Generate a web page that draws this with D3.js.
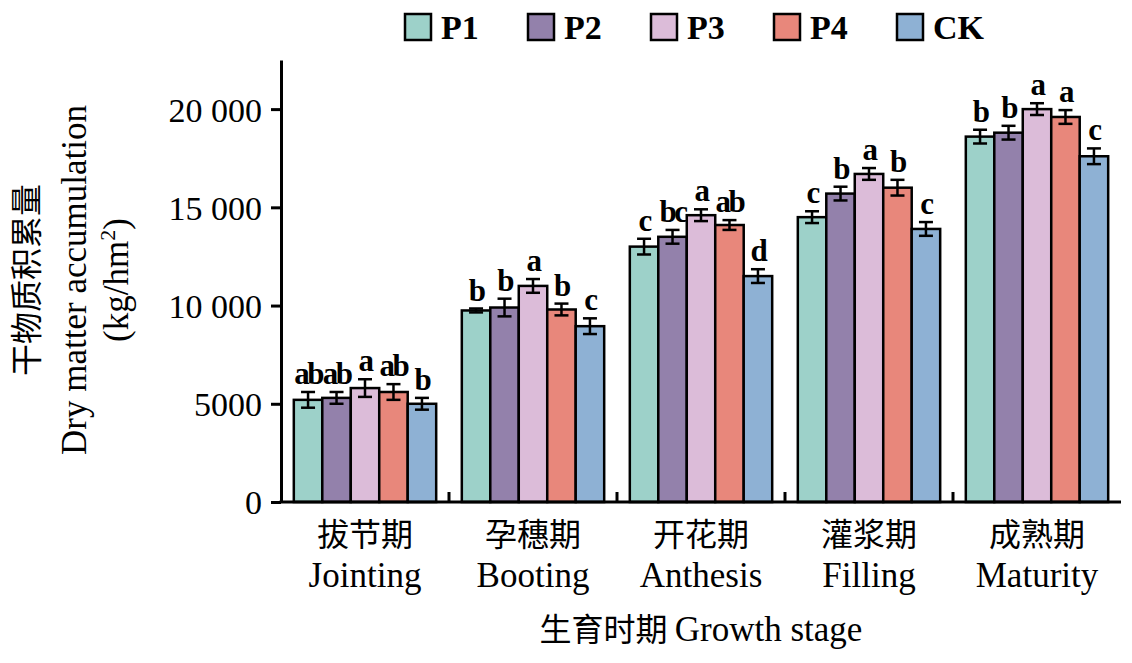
<!DOCTYPE html>
<html><head><meta charset="utf-8">
<script src="https://cdn.jsdelivr.net/npm/d3@7"></script>
<style>body{margin:0;background:#fff}</style>
</head><body><div id="chart"></div>
<script>
const width = 1132, height = 663;

const stagesCn = ["拔节期", "孕穗期", "开花期", "灌浆期", "成熟期"];
const stagesEn = ["Jointing", "Booting", "Anthesis", "Filling", "Maturity"];
const treatments = ["P1", "P2", "P3", "P4", "CK"];
const colors = ["#9dd1c9", "#9381ab", "#dcbcd9", "#e8877b", "#8eb1d4"];

// values per treatment, one entry per stage
const P1 = [5200, 9750, 13000, 14500, 18600];
const P2 = [5300, 9900, 13500, 15700, 18800];
const P3 = [5800, 11000, 14600, 16700, 20000];
const P4 = [5600, 9800, 14100, 16000, 19600];
const CK = [5000, 8950, 11500, 13900, 17600];
const errP1 = [400, 100, 400, 300, 350];
const errP2 = [300, 450, 350, 350, 350];
const errP3 = [450, 350, 300, 300, 300];
const errP4 = [400, 300, 250, 400, 350];
const errCK = [300, 400, 350, 350, 400];
const letP1 = ["ab", "b", "c", "c", "b"];
const letP2 = ["ab", "b", "bc", "b", "b"];
const letP3 = ["a", "a", "a", "a", "a"];
const letP4 = ["ab", "b", "ab", "b", "a"];
const letCK = ["b", "c", "d", "c", "c"];
const yTicks = [0, 5000, 10000, 15000, 20000];

const series = [P1, P2, P3, P4, CK];
const errs = [errP1, errP2, errP3, errP4, errCK];
const lets = [letP1, letP2, letP3, letP4, letCK];

const m = {left: 281, right: 1121, top: 60, bottom: 502};
const svg = d3.select("#chart").append("svg").attr("width", width).attr("height", height)
    .style("font-family", "'Liberation Serif', serif");

const x0 = d3.scaleBand().domain(stagesEn).range([m.left, m.right]);
const x1 = d3.scaleBand().domain(treatments).range([0, x0.bandwidth()]).paddingOuter(0.45);
const y = d3.scaleLinear().domain([0, 22500]).range([m.bottom, m.top]);

const data = [];
stagesEn.forEach((s, i) => treatments.forEach((t, j) => data.push({
    s, t, j, v: series[j][i], e: errs[j][i], l: lets[j][i]})));

const g = svg.append("g");
g.selectAll("rect").data(data).join("rect")
    .attr("x", d => x0(d.s) + x1(d.t)).attr("width", x1.bandwidth())
    .attr("y", d => y(d.v)).attr("height", d => y(0) - y(d.v))
    .attr("fill", d => colors[d.j]).attr("stroke", "#000").attr("stroke-width", 2.5);

const eb = g.selectAll("g.eb").data(data).join("g").attr("stroke", "#000").attr("stroke-width", 2.5);
eb.append("line").attr("x1", d => x0(d.s) + x1(d.t) + x1.bandwidth() / 2)
    .attr("x2", d => x0(d.s) + x1(d.t) + x1.bandwidth() / 2)
    .attr("y1", d => y(d.v - d.e)).attr("y2", d => y(d.v + d.e));
[-1, 1].forEach(k => eb.append("line")
    .attr("x1", d => x0(d.s) + x1(d.t) + x1.bandwidth() / 2 - 7)
    .attr("x2", d => x0(d.s) + x1(d.t) + x1.bandwidth() / 2 + 7)
    .attr("y1", d => y(d.v + k * d.e)).attr("y2", d => y(d.v + k * d.e)));

g.selectAll("text.let").data(data).join("text")
    .attr("x", d => x0(d.s) + x1(d.t) + x1.bandwidth() / 2)
    .attr("y", d => y(d.v + d.e) - 8).attr("text-anchor", "middle")
    .attr("font-size", 31).attr("font-weight", "bold").attr("letter-spacing", -2.5).text(d => d.l);

// axes
const yAxis = svg.append("g").attr("transform", `translate(${m.left},0)`)
    .call(d3.axisLeft(y).tickValues(yTicks).tickSize(10).tickSizeOuter(0)
        .tickFormat(d => d >= 10000 ? d3.format(",")(d).replace(",", " ") : d));
yAxis.select(".domain").attr("stroke-width", 3);
yAxis.selectAll(".tick line").attr("stroke-width", 3);
yAxis.selectAll("text").attr("font-size", 34).attr("fill", "#000").attr("dx", -6).attr("dy", "0.35em")
    .attr("y", 0).attr("font-family", "'Liberation Serif', serif");

svg.append("line").attr("x1", m.left - 1.5).attr("x2", m.right).attr("y1", m.bottom).attr("y2", m.bottom)
    .attr("stroke", "#000").attr("stroke-width", 3);
svg.selectAll("line.xt").data(stagesEn.slice(1)).join("line")
    .attr("x1", d => x0(d)).attr("x2", d => x0(d)).attr("y1", m.bottom).attr("y2", m.bottom - 10)
    .attr("stroke", "#000").attr("stroke-width", 3);

stagesEn.forEach((s, i) => {
    const cx = x0(s) + x0.bandwidth() / 2;
    svg.append("text").attr("x", cx).attr("y", 546).attr("text-anchor", "middle")
        .attr("font-size", 32).attr("font-family", "'Noto Sans CJK SC'").text(stagesCn[i]);
    svg.append("text").attr("x", cx).attr("y", 587).attr("text-anchor", "middle")
        .attr("font-size", 35).text(s);
});

const xt = svg.append("text").attr("x", 701).attr("y", 641).attr("text-anchor", "middle").attr("font-size", 35);
xt.append("tspan").attr("font-family", "'Noto Sans CJK SC'").attr("font-size", 32).text("生育时期 ");
xt.append("tspan").text("Growth stage");

const yt = svg.append("g").attr("transform", "translate(0,280) rotate(-90)");
const yl1 = yt.append("text").attr("x", 0).attr("y", 38).attr("text-anchor", "middle");
yl1.append("tspan").attr("font-family", "'Noto Sans CJK SC'").attr("font-size", 32).text("干物质积累量");
yt.append("text").attr("x", 0).attr("y", 86).attr("text-anchor", "middle").attr("font-size", 35)
    .text("Dry matter accumulation");
const yl3 = yt.append("text").attr("x", 0).attr("y", 128).attr("text-anchor", "middle").attr("font-size", 35);
yl3.append("tspan").text("(kg/hm");
yl3.append("tspan").attr("font-size", 22).attr("dy", -13).text("2");
yl3.append("tspan").attr("dy", 13).text(")");

// legend
const leg = svg.selectAll("g.leg").data(treatments).join("g")
    .attr("transform", (d, i) => `translate(${405 + i * 123},14)`);
leg.append("rect").attr("width", 26).attr("height", 26).attr("fill", (d, i) => colors[i])
    .attr("stroke", "#000").attr("stroke-width", 2.5);
leg.append("text").attr("x", 36).attr("y", 25).attr("font-size", 34).attr("font-weight", "bold").text(d => d);
</script></body></html>
